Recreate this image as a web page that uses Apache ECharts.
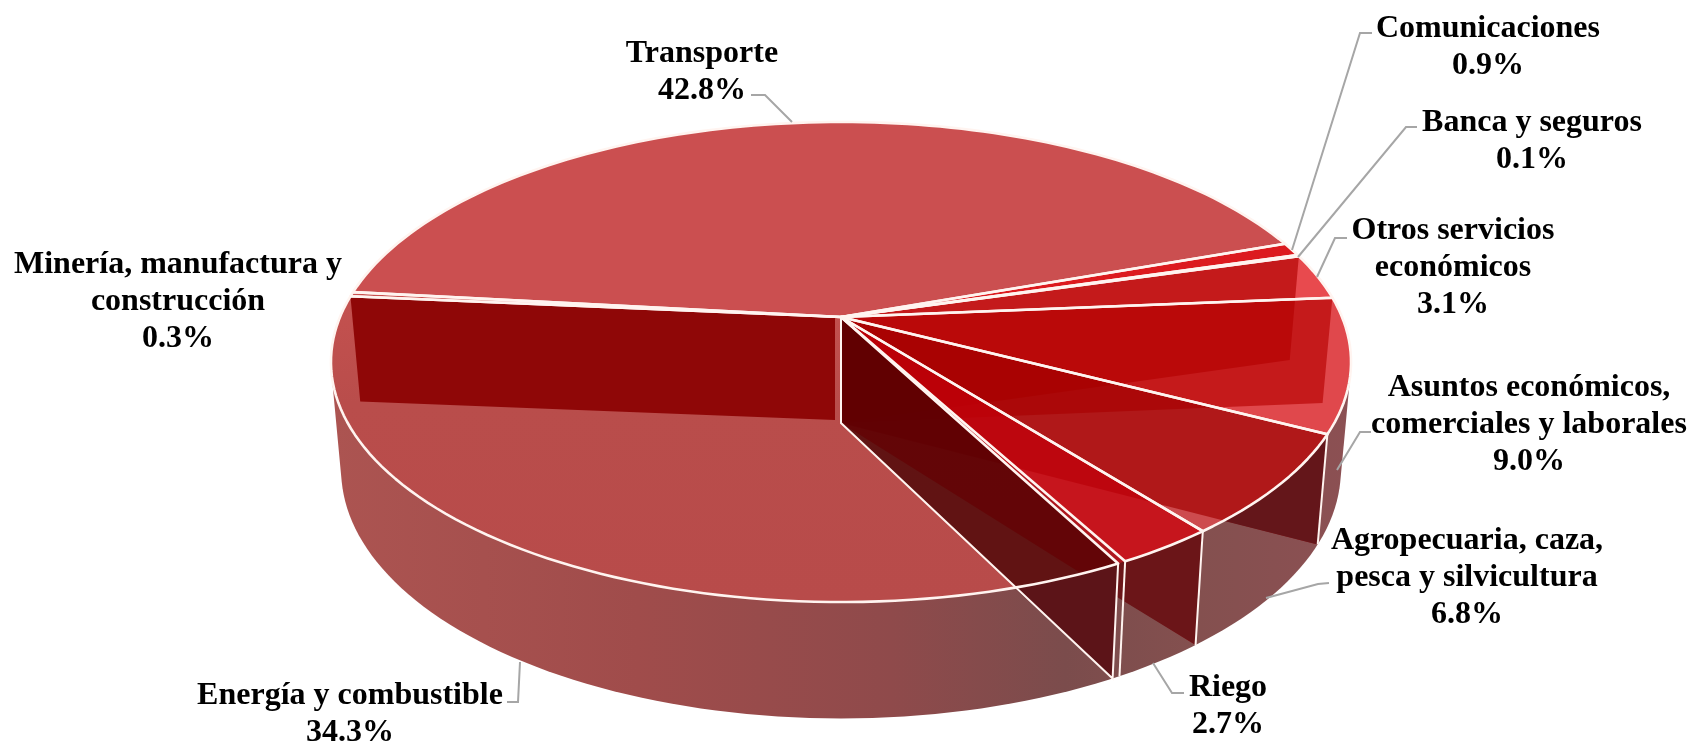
<!DOCTYPE html>
<html>
<head>
<meta charset="utf-8">
<style>html,body{margin:0;padding:0;background:#fff}#c{width:1694px;height:742px}</style>
<script src="https://cdn.jsdelivr.net/npm/echarts@6/dist/echarts.min.js"></script>
</head>
<body>
<div id="c"></div>
<script>
// ---- data ----
const names = [
  "Transporte", "Comunicaciones", "Banca y seguros",
  "Otros servicios\neconómicos",
  "Asuntos económicos,\ncomerciales y laborales",
  "Agropecuaria, caza,\npesca y silvicultura",
  "Riego", "Energía y combustible",
  "Minería, manufactura y\nconstrucción"
];
const values = [42.8, 0.9, 0.1, 3.1, 9.0, 6.8, 2.7, 34.3, 0.3];

// ---- styles ----
const topColors = ["#cb4f50", "#dc1a1e", "#dc1a1e", "#e84a4e", "#e0484c", "#cd4b4e", "#cd464b", null, "#c9504f"];
const wallColors = [null, null, "rgba(177,0,0,.65)", "rgba(182,0,0,.64)", "rgba(162,0,0,.68)",
  "rgba(195,0,10,.7)", "rgba(66,0,0,.74)", "#8f0707", null];
const rimShades = [null, null, null, null, "#64161a", "#6b1518", "#5c1418", null, null];
const edgeWhite = "#fff4f0";

// ---- label layout: centre of the text block, then leader polyline ----
const labelCenters = [[702,72],[1488,47],[1532,141],[1453,268],[1529,425],[1467,578],[1228,706],[350,714],[178,302]];
const leaders = [
  [[751,95],[765,95],[792,122]],
  [[1372,33],[1360,33],[1292,250]],
  [[1417,127],[1406,127],[1298,257]],
  [[1347,238],[1335,238],[1317,277]],
  [[1371,432],[1360,432],[1337,470]],
  [[1329,583],[1318,584],[1266,598]],
  [[1184,693],[1172,693],[1153,663]],
  [[507,702],[518,702],[520,662]],
  null
];

// ---- perspective of the disc ----
const view = { cx: 841, p: 0.1875, start: 186.3, energyGap: 0.8,
  top: { a: 501, b: 231.6, cy: 317 }, bottom: { a: 491, b: 240, cy: 423 } };

function project(deg, lvl) {
  const t = deg * Math.PI / 180, u = Math.cos(t), v = Math.sin(t), d = 1 - view.p * v;
  return [view.cx + lvl.a * u / d, lvl.cy + lvl.b * v / d];
}
const apexTop = [view.cx, view.top.cy], apexBot = [view.cx, view.bottom.cy];
const total = values.reduce((s, v) => s + v, 0);
function angleAt(i) {
  let s = 0;
  for (let k = 0; k < i; k++) s += values[k];
  return view.start + s / total * 360;
}
function arc(a0, a1, lvl) {
  const n = Math.max(2, Math.ceil(Math.abs(a1 - a0) / 1.5)), out = [];
  for (let k = 0; k <= n; k++) out.push(project(a0 + (a1 - a0) * k / n, lvl));
  return out;
}
function hull(pts) {
  pts = pts.slice().sort((p, q) => p[0] - q[0] || p[1] - q[1]);
  const cross = (o, a, b) => (a[0]-o[0])*(b[1]-o[1]) - (a[1]-o[1])*(b[0]-o[0]);
  const lo = [], up = [];
  for (const q of pts) { while (lo.length > 1 && cross(lo[lo.length-2], lo[lo.length-1], q) <= 0) lo.pop(); lo.push(q); }
  for (const q of pts.slice().reverse()) { while (up.length > 1 && cross(up[up.length-2], up[up.length-1], q) <= 0) up.pop(); up.push(q); }
  return lo.slice(0, -1).concat(up.slice(0, -1));
}
// the part of an inner wall that shows on the outer rim
function rimShadePoints(deg) {
  const end = project(deg, view.bottom);
  const side = P => (end[0]-apexBot[0])*(P[1]-apexBot[1]) - (end[1]-apexBot[1])*(P[0]-apexBot[0]);
  const s0 = side(project(deg + 0.5, view.top));
  let d = deg + 0.5;
  for (; d < deg + 170; d += 0.25) if (side(project(d, view.top)) * s0 < 0) break;
  return arc(deg, d, view.top).concat([end]);
}
const toStops = s => s.map(([offset, color]) => ({ offset, color }));
const grad = stops => new echarts.graphic.LinearGradient(0, 0, 1, 0, toStops(stops));
const gradV = stops => new echarts.graphic.LinearGradient(0, 0, 0, 1, toStops(stops));

function renderItem(params, api) {
  const i = params.dataIndex, val = api.value(0);
  const a0 = angleAt(i), a1 = a0 + val / total * 360, kids = [];
  const isEnergy = i === 7;
  const faceStart = isEnergy ? a0 + view.energyGap : a0;
  const facePts = [apexTop].concat(arc(faceStart, a1, view.top));

  if (i === 0) {
    const all = arc(0, 360, view.top).concat(arc(0, 360, view.bottom));
    kids.push({ type: 'polygon', z2: 10, shape: { points: hull(all) }, style: {
      fill: grad([[0, '#ac5451'], [0.3, '#a04c4b'], [0.55, '#8f4a4b'], [0.72, '#7b4c4c'], [0.85, '#84504f'], [1, '#8c5053']]) } });
  }
  // top face
  kids.push({ type: 'polygon', z2: 20, shape: { points: facePts }, style: {
    fill: isEnergy ? gradV([[0, '#c4514f'], [0.35, '#b94d4b'], [1, '#b84b4a']]) : topColors[i] } });

  // inner wall at the end of this slice
  if (wallColors[i]) {
    const deg = i === 6 ? a1 + view.energyGap : a1;
    const shift = isEnergy ? -6 : 0;
    kids.push({ type: 'polygon', z2: 30 + i, shape: { points: [
      [apexTop[0] + shift, apexTop[1]], project(deg, view.top), project(deg, view.bottom), [apexBot[0] + shift, apexBot[1] - (isEnergy ? 3 : 0)]
    ] }, style: { fill: wallColors[i] } });
    if (rimShades[i]) {
      kids.push({ type: 'polygon', z2: 40 + i, shape: { points: rimShadePoints(deg) }, style: { fill: rimShades[i] } });
    }
  }
  // white edges on top of everything
  kids.push({ type: 'polygon', z2: 60, shape: { points: facePts }, style: {
    fill: 'none', stroke: edgeWhite, lineWidth: 2.6, lineJoin: 'round' } });
  if (i >= 4 && i <= 6) {
    kids.push({ type: 'line', z2: 61, shape: { x1: project(a1, view.top)[0], y1: project(a1, view.top)[1], x2: project(a1, view.bottom)[0], y2: project(a1, view.bottom)[1] },
      style: { stroke: edgeWhite, lineWidth: 2 } });
  }
  if (i === 6) {
    const d = a1 + view.energyGap, t = project(d, view.top), b = project(d, view.bottom);
    kids.push({ type: 'polyline', z2: 61, shape: { points: [apexTop, apexBot, b, t] },
      style: { fill: 'none', stroke: edgeWhite, lineWidth: 2 } });
  }
  // label
  if (leaders[i]) {
    kids.push({ type: 'polyline', z2: 80, shape: { points: leaders[i] },
      style: { fill: 'none', stroke: '#a6a6a6', lineWidth: 2 } });
  }
  kids.push({ type: 'text', z2: 90, style: {
    text: names[i] + "\n" + val.toFixed(1) + "%",
    x: labelCenters[i][0], y: labelCenters[i][1],
    textAlign: 'center', textVerticalAlign: 'middle',
    fontFamily: '"Liberation Serif", "Times New Roman", serif', fontWeight: 'bold', fontSize: 32,
    lineHeight: 37, fill: '#000'
  } });
  return { type: 'group', children: kids };
}

const chart = echarts.init(document.getElementById('c'), null, { renderer: 'canvas' });
chart.setOption({
  animation: false,
  backgroundColor: '#fff',
  series: [{
    type: 'custom',
    coordinateSystem: 'none',
    silent: true,
    renderItem,
    data: values.map((v, i) => ({ name: names[i].replace("\n", " "), value: v }))
  }]
});
</script>
</body>
</html>
